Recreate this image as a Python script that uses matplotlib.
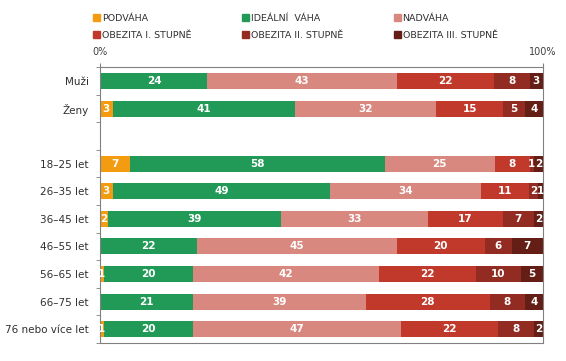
import matplotlib.pyplot as plt
from matplotlib.patches import Patch

categories = ["Muži", "Ženy", "", "18–25 let", "26–35 let", "36–45 let",
              "46–55 let", "56–65 let", "66–75 let", "76 nebo více let"]
series = ["PODVÁHA", "IDEÁLNÍ  VÁHA", "NADVÁHA",
          "OBEZITA I. STUPNĚ", "OBEZITA II. STUPNĚ", "OBEZITA III. STUPNĚ"]
colors = ["#F39C12", "#229A57", "#D98880", "#C0392B", "#922B21", "#641E16"]

# one list per category, in series order (blank row has no bar)
podvaha  = [0.3, 3, 0, 7, 3, 2, 0, 1, 0, 1]
idealni  = [24, 41, 0, 58, 49, 39, 22, 20, 21, 20]
nadvaha  = [43, 32, 0, 25, 34, 33, 45, 42, 39, 47]
obezita1 = [22, 15, 0, 8, 11, 17, 20, 22, 28, 22]
obezita2 = [8, 5, 0, 1, 2, 7, 6, 10, 8, 8]
obezita3 = [3, 4, 0, 2, 1, 2, 7, 5, 4, 2]
values = [podvaha, idealni, nadvaha, obezita1, obezita2, obezita3]

fig = plt.figure(figsize=(5.66, 3.61), dpi=100)
ax = fig.add_axes([0.176, 0.050, 0.783, 0.764])

totals = [sum(v[i] for v in values) for i in range(len(categories))]
ypos = list(range(len(categories)))
left = [0.0] * len(categories)
for vals, col in zip(values, colors):
    widths = [v / t * 100 if t else 0 for v, t in zip(vals, totals)]
    ax.barh(ypos, widths, left=left, height=0.58, color=col, linewidth=0)
    for y, v, w, l in zip(ypos, vals, widths, left):
        if v >= 1:
            ax.text(l + w / 2, y, "%d" % round(v), ha="center", va="center",
                    color="white", fontsize=7.5, fontweight="bold")
    left = [l + w for l, w in zip(left, widths)]

ax.set_xlim(0, 100)
ax.set_ylim(9.5, -0.5)

ax.xaxis.tick_top()
ax.set_xticks([0, 100])
ax.set_xticklabels(["0%", "100%"], fontsize=7, color="#404040")
ax.tick_params(axis="x", length=3, pad=4, color="#808080")

ax.set_yticks(ypos)
ax.set_yticklabels(categories, fontsize=7.5, color="#303030")
ax.set_yticks([i + 0.5 for i in range(-1, len(categories))], minor=True)
ax.tick_params(axis="y", which="major", length=0, pad=8)
ax.tick_params(axis="y", which="minor", length=3, color="#808080")

for s in ax.spines.values():
    s.set_color("#808080")
    s.set_linewidth(0.8)

handles = [Patch(color=c, label=s) for c, s in zip(colors, series)]
order = [0, 3, 1, 4, 2, 5]
fig.legend([handles[i] for i in order], [series[i] for i in order],
           ncol=3, loc="upper left", bbox_to_anchor=(0.149, 0.985),
           frameon=False, fontsize=6.8, handlelength=0.75, handleheight=0.75,
           handletextpad=0.2, columnspacing=5.35, labelspacing=0.85,
           labelcolor="#303030")

fig.savefig("out.png", dpi=100)
